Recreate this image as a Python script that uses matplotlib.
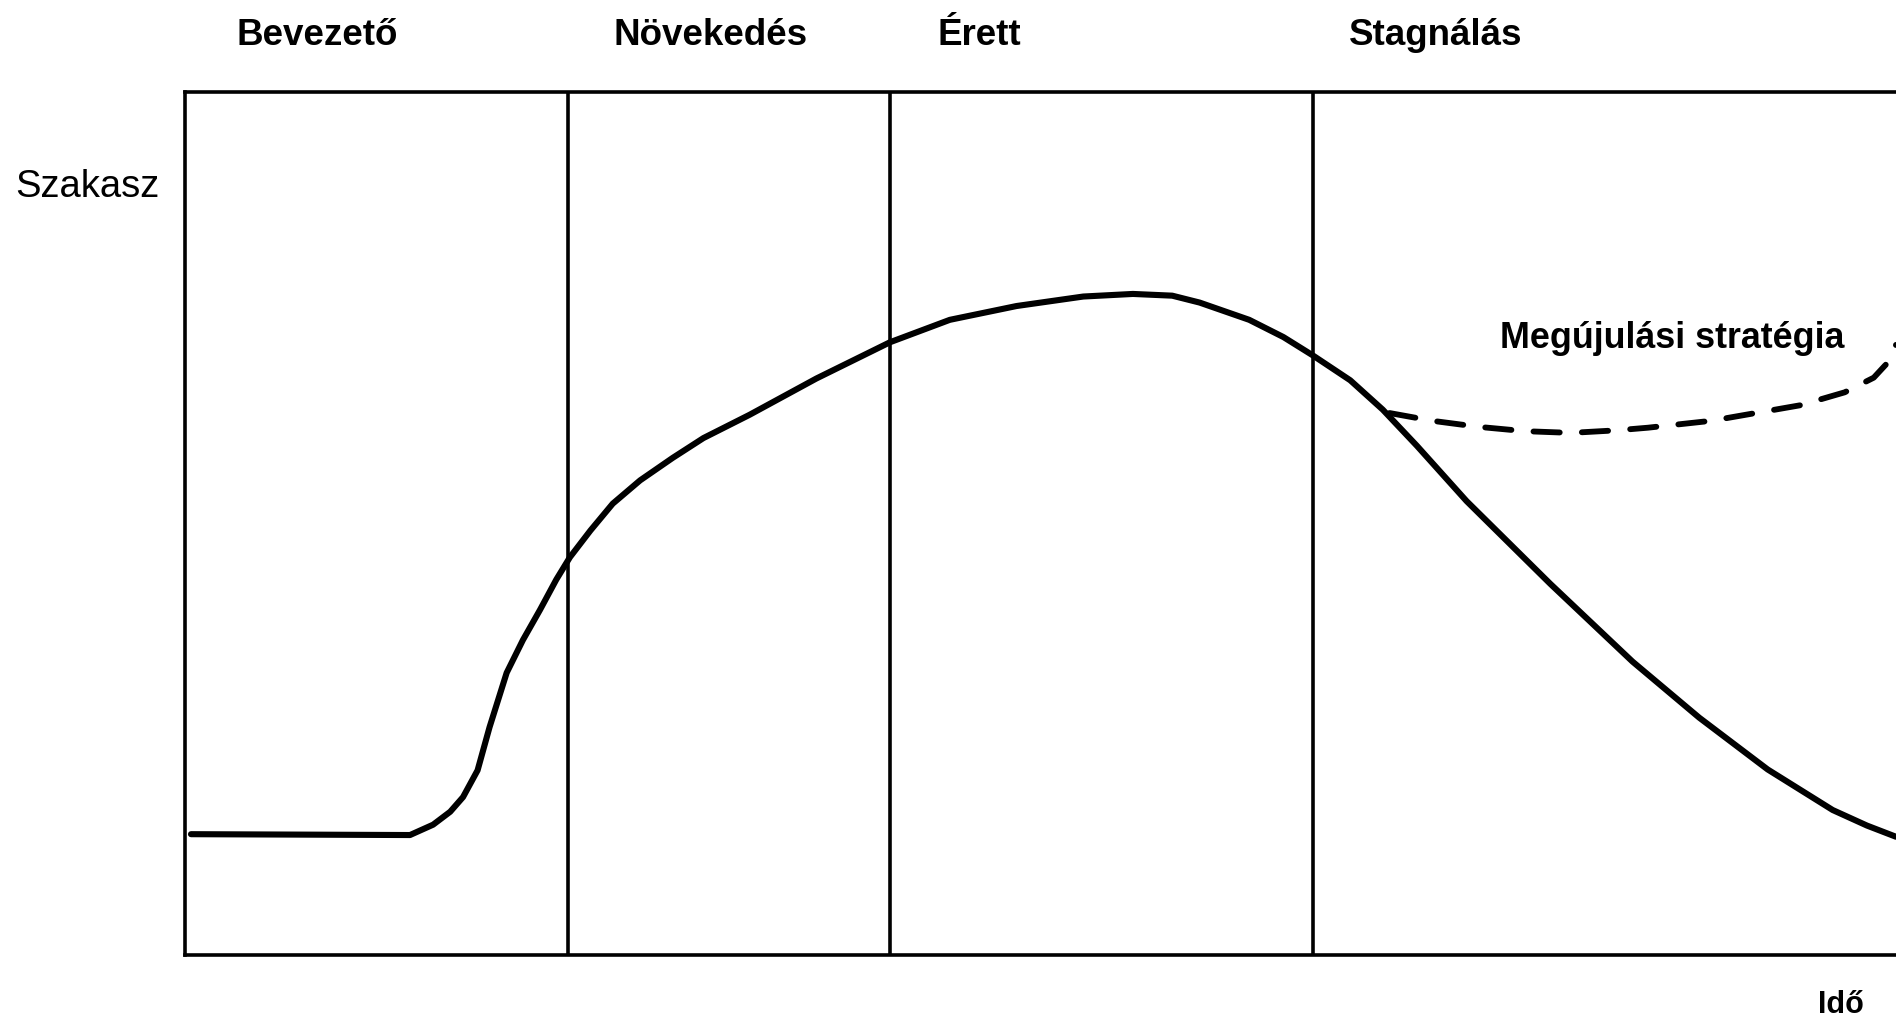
import matplotlib.pyplot as plt

# phase names and boundaries (time axis 0-100)
phases = ['Bevezető', 'Növekedés', 'Érett', 'Stagnálás']
phase_label_x = [7.7, 30.7, 46.4, 73.1]
boundaries = [22.4, 41.2, 65.9]

# life-cycle curve
curve_x = [0.35, 13.15, 14.5, 15.5, 16.25, 17.1, 17.8, 18.8, 19.75, 20.75, 21.7, 22.5,
           23.7, 25.0, 26.6, 28.5, 30.3, 33.0, 36.9, 41.2, 44.7, 48.6, 52.5, 55.4,
           57.7, 59.3, 62.2, 64.2, 65.9, 68.1, 70.0, 72.0, 74.9, 79.8, 84.6, 88.5,
           92.5, 96.3, 98.3, 100.0]
curve_y = [14.0, 13.9, 15.1, 16.6, 18.3, 21.4, 26.4, 32.7, 36.5, 40.0, 43.5, 46.1,
           49.2, 52.3, 55.0, 57.6, 59.9, 62.6, 66.8, 71.0, 73.6, 75.2, 76.3, 76.6,
           76.4, 75.6, 73.6, 71.6, 69.5, 66.6, 63.2, 59.0, 52.6, 43.0, 34.0, 27.5,
           21.5, 16.8, 15.0, 13.7]

# renewal strategy (dashed)
renew_x = [70.4, 72.9, 75.6, 78.3, 81.0, 83.7, 85.5, 89.2, 91.8, 94.4, 97.0, 98.7, 99.4, 100.0]
renew_y = [62.8, 61.9, 61.2, 60.7, 60.5, 60.8, 61.1, 61.9, 62.8, 63.7, 65.2, 66.9, 68.4, 70.7]

plt.rcParams['font.family'] = ['Liberation Sans', 'DejaVu Sans']

fig = plt.figure(figsize=(18.96, 10.23), dpi=100)
ax = fig.add_axes([185 / 1896, 68 / 1023, 1 - 185 / 1896, 863 / 1023])
ax.set_xlim(0, 100)
ax.set_ylim(0, 100)

for s in ['left', 'top', 'bottom']:
    ax.spines[s].set_linewidth(2.6)
ax.spines['right'].set_visible(False)
ax.set_xticks([])
ax.set_yticks([])

for b in boundaries:
    ax.axvline(b, color='black', lw=2.6)

ax.plot(curve_x, curve_y, color='black', lw=4.4, solid_capstyle='round',
        solid_joinstyle='round')
ax.plot(renew_x, renew_y, color='black', lw=4.2, linestyle=(0, (4.5, 3.8)),
        dash_capstyle='round')

for name, x in zip(phases, phase_label_x):
    ax.text(x, 1.065, name, transform=ax.get_xaxis_transform(), ha='center', va='center',
            fontsize=26.5, fontweight='bold')

fig.text(87 / 1896, 1 - 187 / 1023, 'Szakasz', ha='center', va='center', fontsize=27.5)
ax.text(86.9, 71.4, 'Megújulási stratégia', ha='center', va='center', fontsize=25.8,
        fontweight='bold')
fig.text(1841 / 1896, 1 - 1005 / 1023, 'Idő', ha='center', va='center', fontsize=22,
         fontweight='bold')

fig.savefig('out.png', dpi=100)
